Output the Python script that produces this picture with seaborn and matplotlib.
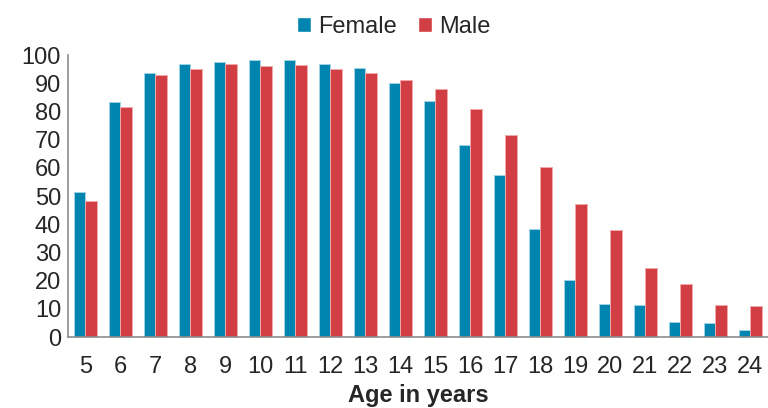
import pandas as pd
import seaborn as sns
import matplotlib.pyplot as plt

# Datos
ages = [5, 6, 7, 8, 9, 10, 11, 12, 13, 14, 15, 16, 17, 18, 19, 20, 21, 22, 23, 24]
female = [51.5, 83.3, 93.6, 96.9, 97.7, 98.1, 98.2, 96.7, 95.4, 90.1,
          83.6, 68.1, 57.4, 38.4, 20.2, 11.8, 11.3, 5.2, 5.1, 2.4]
male = [48.3, 81.7, 92.9, 95.1, 96.9, 96.1, 96.5, 95.1, 93.7, 91.0,
        87.8, 80.9, 71.7, 60.4, 47.1, 37.9, 24.3, 18.9, 11.4, 11.1]

df = pd.DataFrame({
    'age': [str(a) for a in ages] * 2,
    'value': female + male,
    'sex': ['Female'] * len(ages) + ['Male'] * len(ages),
})

sns.set_style('white')
plt.rcParams['font.family'] = ['Liberation Sans', 'DejaVu Sans']

fig = plt.figure(figsize=(7.68, 4.08), dpi=100)
ax = fig.add_axes([0.0885, 0.174, 0.9115, 0.691])

sns.barplot(data=df, x='age', y='value', hue='sex',
            palette={'Female': '#0085B1', 'Male': '#D13F44'},
            width=0.68, gap=0, ax=ax, saturation=1, errorbar=None)

# bordes claros de las barras
for cont, ec in zip(ax.containers, ['#9fd3e6', '#f2a9ab']):
    for bar in cont:
        bar.set_edgecolor(ec)
        bar.set_linewidth(0.7)

ax.set_ylim(0, 100)
ax.set_xlim(-0.5, len(ages) - 0.5)
ax.set_yticks(range(0, 101, 10))
ax.tick_params(axis='both', labelsize=17, length=0, pad=5)
ax.tick_params(axis='x', pad=14)
ax.set_ylabel('')
ax.set_xlabel('Age in years', fontsize=17, fontweight='bold', labelpad=4)

for s in ['top', 'right']:
    ax.spines[s].set_visible(False)
for s in ['left', 'bottom']:
    ax.spines[s].set_color('#8c8c8c')
    ax.spines[s].set_linewidth(1.2)

ax.legend(loc='upper center', bbox_to_anchor=(0.465, 1.215), ncol=2,
          frameon=False, fontsize=17, handlelength=0.6, handleheight=0.6,
          handletextpad=0.3, columnspacing=0.9)

fig.savefig('out.png', dpi=100)
